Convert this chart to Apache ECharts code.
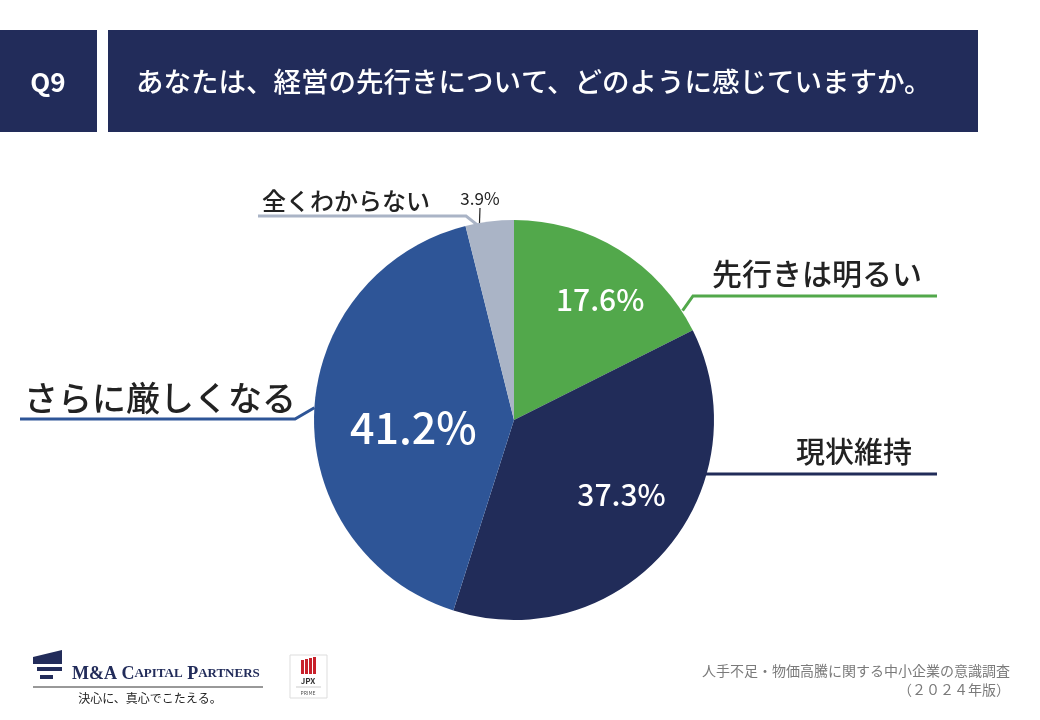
<!DOCTYPE html>
<html><head><meta charset="utf-8">
<script src="https://cdn.jsdelivr.net/npm/echarts@6/dist/echarts.min.js"></script>
<style>html,body{margin:0;padding:0;background:#fff}#c{width:1040px;height:720px}</style>
</head><body><div id="c"></div>
<script>
const categories = ['先行きは明るい', '現状維持', 'さらに厳しくなる', '全くわからない'];
const values = [17.6, 37.3, 41.2, 3.9];
const colors = ['#52a84b', '#212c59', '#2e5597', '#aab4c6'];
const title = 'あなたは、経営の先行きについて、どのように感じていますか。';
const qLabel = 'Q9';
const footer1 = '人手不足・物価高騰に関する中小企業の意識調査';
const footer2 = '（２０２４年版）';

const FONT = '"Noto Sans CJK JP", "Noto Sans", sans-serif';
const CX = 514, CY = 420, R = 200;

// layout of in-slice percentage labels (polar: angle deg from top clockwise, radius)
const pctPos = [[35.6, 148], [124.8, 131], [265.5, 101], null];
const pctSize = [30, 30, 43, 17];
function polar(a, r) { const t = a * Math.PI / 180; return [CX + r * Math.sin(t), CY - r * Math.cos(t)]; }

// name label layout: [text x, text y, align, fontSize, linePoints]
const nameLayout = [
  [922, 274, 'right', 30, [polar(57, 201), [693, 296], [937, 296]]],
  [912, 452, 'right', 29, [polar(105.5, 200), [706, 474], [937, 474]]],
  [24, 398, 'left', 34, [polar(273.5, 200), [295, 419], [20, 419]]],
  [262, 201, 'left', 24, [polar(349.5, 198), [466, 216], [258, 216]]]
];

const chart = echarts.init(document.getElementById('c'), null, {renderer: 'canvas'});
const data = categories.map((n, i) => ({name: n, value: values[i], itemStyle: {color: colors[i]}}));

chart.setOption({
  animation: false,
  graphic: [
    {type: 'rect', shape: {x: 0, y: 30, width: 97, height: 102}, style: {fill: '#222c5a'}},
    {type: 'rect', shape: {x: 108, y: 30, width: 870, height: 102}, style: {fill: '#222c5a'}},
    {type: 'text', x: 48, y: 82, style: {text: qLabel, fill: '#fff', font: 'bold 26px ' + FONT, align: 'center', verticalAlign: 'middle'}},
    {type: 'text', x: 136, y: 82, style: {text: title, fill: '#fff', font: '500 27.5px ' + FONT, verticalAlign: 'middle'}},
    // logo emblem
    {type: 'polygon', shape: {points: [[33, 657], [62, 650], [62, 664], [33, 664]]}, style: {fill: '#222c5a'}},
    {type: 'rect', shape: {x: 37, y: 667, width: 25, height: 4}, style: {fill: '#222c5a'}},
    {type: 'rect', shape: {x: 40, y: 675, width: 13, height: 4}, style: {fill: '#222c5a'}},
    {type: 'text', x: 72, y: 683, style: {text: '{b|M&A C}{s|APITAL}{b| P}{s|ARTNERS}', verticalAlign: 'bottom', rich: {b: {fontSize: 18, fontFamily: 'Liberation Serif', fill: '#222c5a', fontWeight: 'bold'}, s: {fontSize: 13, fontFamily: 'Liberation Serif', fill: '#222c5a', fontWeight: 'bold'}}}},
    {type: 'line', shape: {x1: 33, y1: 687, x2: 263, y2: 687}, style: {stroke: '#333', lineWidth: 1}},
    {type: 'text', x: 150, y: 698, style: {text: '決心に、真心でこたえる。', fill: '#222', font: '12px ' + FONT, align: 'center', verticalAlign: 'middle'}},
    // JPX box
    {type: 'rect', shape: {x: 290, y: 655, width: 37, height: 43}, style: {fill: '#fff', stroke: '#ddd', lineWidth: 1}},
    {type: 'rect', shape: {x: 301, y: 660, width: 3, height: 14}, style: {fill: '#c8202a'}},
    {type: 'rect', shape: {x: 305, y: 659, width: 3, height: 15}, style: {fill: '#c8202a'}},
    {type: 'rect', shape: {x: 309, y: 658, width: 3, height: 16}, style: {fill: '#c8202a'}},
    {type: 'rect', shape: {x: 313, y: 657, width: 3, height: 17}, style: {fill: '#c8202a'}},
    {type: 'text', x: 308, y: 681, style: {text: 'JPX', fill: '#333', font: 'bold 8px ' + FONT, align: 'center', verticalAlign: 'middle'}},
    {type: 'line', shape: {x1: 296, y1: 687, x2: 321, y2: 687}, style: {stroke: '#aaa', lineWidth: 0.6}},
    {type: 'text', x: 308, y: 693, style: {text: 'PRIME', fill: '#555', font: '5px ' + FONT, align: 'center', verticalAlign: 'middle'}},
    // footer
    {type: 'text', x: 1010, y: 671, style: {text: footer1, fill: '#7a7a7a', font: '14px ' + FONT, align: 'right', verticalAlign: 'middle'}},
    {type: 'text', x: 1010, y: 690, style: {text: footer2, fill: '#7a7a7a', font: '14px ' + FONT, align: 'right', verticalAlign: 'middle'}}
  ],
  series: [
    {
      type: 'pie', center: [CX, CY], radius: [0, R], startAngle: 90, clockwise: true,
      silent: true,
      itemStyle: {borderWidth: 0},
      label: {
        show: true, position: 'inside', fontFamily: FONT, fontWeight: 500,
        formatter: p => p.value.toFixed(1) + '%',
        color: '#fff'
      },
      labelLine: {show: true, lineStyle: {color: '#222', width: 1.2}},
      labelLayout: function (p) {
        const i = p.dataIndex;
        if (i === 3) {
          return {x: 480, y: 199, align: 'center', verticalAlign: 'middle', fontSize: pctSize[i],
            labelLinePoints: [polar(350, 199), [480, 208], [480, 208]]};
        }
        const pt = polar(pctPos[i][0], pctPos[i][1]);
        return {x: pt[0], y: pt[1], align: 'center', verticalAlign: 'middle', fontSize: pctSize[i]};
      },
      data: data.map((d, i) => Object.assign({}, d, {
        label: i === 3 ? {position: 'outside', color: '#222', fontWeight: 400} : {},
        labelLine: i === 3 ? {show: true} : {show: false}
      }))
    },
    {
      type: 'pie', center: [CX, CY], radius: [0, R], startAngle: 90, clockwise: true,
      silent: true, z: 3,
      itemStyle: {color: 'rgba(0,0,0,0)'},
      label: {show: true, position: 'outside', fontFamily: FONT, fontWeight: 500, color: '#222', formatter: '{b}'},
      labelLine: {show: true, length: 10, length2: 10},
      labelLayout: function (p) {
        const L = nameLayout[p.dataIndex];
        return {x: L[0], y: L[1], align: L[2], verticalAlign: 'middle', fontSize: L[3], labelLinePoints: L[4]};
      },
      data: data.map((d, i) => ({name: d.name, value: d.value,
        itemStyle: {color: 'rgba(0,0,0,0)'},
        label: {color: '#222'},
        labelLine: {lineStyle: {color: colors[i], width: 3, opacity: 1}}}))
    }
  ]
});
</script></body></html>
